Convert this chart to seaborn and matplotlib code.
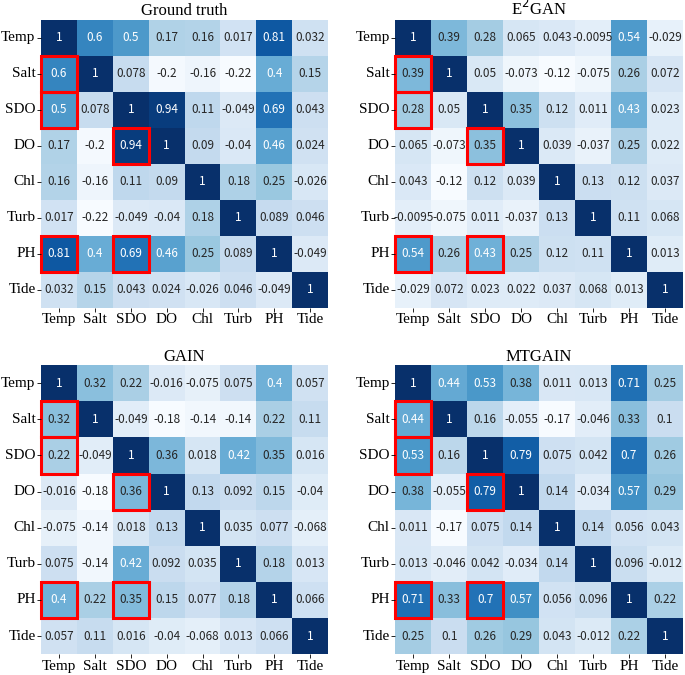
import numpy as np
import matplotlib
matplotlib.use("Agg")
import matplotlib.pyplot as plt
import seaborn as sns
from matplotlib.patches import Rectangle

labels = ["Temp", "Salt", "SDO", "DO", "Chl", "Turb", "PH", "Tide"]

ground_truth = [
    [1, 0.6, 0.5, 0.17, 0.16, 0.017, 0.81, 0.032],
    [0.6, 1, 0.078, -0.2, -0.16, -0.22, 0.4, 0.15],
    [0.5, 0.078, 1, 0.94, 0.11, -0.049, 0.69, 0.043],
    [0.17, -0.2, 0.94, 1, 0.09, -0.04, 0.46, 0.024],
    [0.16, -0.16, 0.11, 0.09, 1, 0.18, 0.25, -0.026],
    [0.017, -0.22, -0.049, -0.04, 0.18, 1, 0.089, 0.046],
    [0.81, 0.4, 0.69, 0.46, 0.25, 0.089, 1, -0.049],
    [0.032, 0.15, 0.043, 0.024, -0.026, 0.046, -0.049, 1],
]

e2gan = [
    [1, 0.39, 0.28, 0.065, 0.043, -0.0095, 0.54, -0.029],
    [0.39, 1, 0.05, -0.073, -0.12, -0.075, 0.26, 0.072],
    [0.28, 0.05, 1, 0.35, 0.12, 0.011, 0.43, 0.023],
    [0.065, -0.073, 0.35, 1, 0.039, -0.037, 0.25, 0.022],
    [0.043, -0.12, 0.12, 0.039, 1, 0.13, 0.12, 0.037],
    [-0.0095, -0.075, 0.011, -0.037, 0.13, 1, 0.11, 0.068],
    [0.54, 0.26, 0.43, 0.25, 0.12, 0.11, 1, 0.013],
    [-0.029, 0.072, 0.023, 0.022, 0.037, 0.068, 0.013, 1],
]

gain = [
    [1, 0.32, 0.22, -0.016, -0.075, 0.075, 0.4, 0.057],
    [0.32, 1, -0.049, -0.18, -0.14, -0.14, 0.22, 0.11],
    [0.22, -0.049, 1, 0.36, 0.018, 0.42, 0.35, 0.016],
    [-0.016, -0.18, 0.36, 1, 0.13, 0.092, 0.15, -0.04],
    [-0.075, -0.14, 0.018, 0.13, 1, 0.035, 0.077, -0.068],
    [0.075, -0.14, 0.42, 0.092, 0.035, 1, 0.18, 0.013],
    [0.4, 0.22, 0.35, 0.15, 0.077, 0.18, 1, 0.066],
    [0.057, 0.11, 0.016, -0.04, -0.068, 0.013, 0.066, 1],
]

mtgain = [
    [1, 0.44, 0.53, 0.38, 0.011, 0.013, 0.71, 0.25],
    [0.44, 1, 0.16, -0.055, -0.17, -0.046, 0.33, 0.1],
    [0.53, 0.16, 1, 0.79, 0.075, 0.042, 0.7, 0.26],
    [0.38, -0.055, 0.79, 1, 0.14, -0.034, 0.57, 0.29],
    [0.011, -0.17, 0.075, 0.14, 1, 0.14, 0.056, 0.043],
    [0.013, -0.046, 0.042, -0.034, 0.14, 1, 0.096, -0.012],
    [0.71, 0.33, 0.7, 0.57, 0.056, 0.096, 1, 0.22],
    [0.25, 0.1, 0.26, 0.29, 0.043, -0.012, 0.22, 1],
]

titles = ["Ground truth", "E$^2$GAN", "GAIN", "MTGAIN"]
matrices = [ground_truth, e2gan, gain, mtgain]

# cells to outline in red: (row, col)
highlight = [(1, 0), (2, 0), (3, 2), (6, 0), (6, 2)]

fig = plt.figure(figsize=(6.85, 6.75), dpi=100)
positions = [
    [0.060, 0.544, 0.419, 0.427],
    [0.577, 0.544, 0.420, 0.427],
    [0.060, 0.031, 0.419, 0.428],
    [0.577, 0.031, 0.420, 0.428],
]

for pos, mat, title in zip(positions, matrices, titles):
    ax = fig.add_axes(pos)
    sns.heatmap(np.array(mat), ax=ax, cmap="Blues", annot=True, cbar=False,
                xticklabels=labels, yticklabels=labels,
                annot_kws={"fontsize": 8.5, "family": "Noto Sans CJK SC"})
    ax.set_title(title, fontsize=12, family="Liberation Serif", pad=3)
    ax.tick_params(axis="both", length=3, width=0.6, pad=1)
    for t in ax.get_xticklabels():
        t.set_family("Liberation Serif")
        t.set_fontsize(11)
        t.set_rotation(0)
    for t in ax.get_yticklabels():
        t.set_family("Liberation Serif")
        t.set_fontsize(11)
        t.set_rotation(0)
    for r, c in highlight:
        ax.add_patch(Rectangle((c, r), 1, 1, fill=False, edgecolor="red",
                               lw=2.2, clip_on=False))

fig.savefig("out.png", dpi=100)
